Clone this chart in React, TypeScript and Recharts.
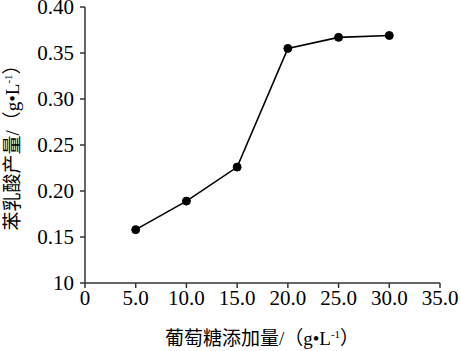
import { LineChart, Line, XAxis, YAxis } from "recharts";

const glucose = [5, 10, 15, 20, 25, 30];
const plaYield = [0.158, 0.189, 0.226, 0.355, 0.367, 0.369];
const xTicks = [0, 5, 10, 15, 20, 25, 30, 35];
const yTicks = [0.1, 0.15, 0.2, 0.25, 0.3, 0.35, 0.4];

const data = glucose.map((g, i) => ({ g, v: plaYield[i] }));

const serif = "'Liberation Serif', 'Noto Sans CJK SC', serif";
const axisColor = "#333";

export default function App() {
  return (
    <div style={{ position: "fixed", left: 0, top: 0, background: "#fff" }}>
      <LineChart
        width={460}
        height={351}
        data={data}
        margin={{ top: 7, right: 20, bottom: 0, left: 0 }}
      >
        <XAxis
          dataKey="g"
          type="number"
          domain={[0, 35]}
          ticks={xTicks}
          tickFormatter={(v: number) => (v === 0 ? "0" : v.toFixed(1))}
          height={68}
          stroke={axisColor}
          strokeWidth={1.5}
          tickSize={5}
          tick={{ fill: "#000", fontSize: 21, fontFamily: serif }}
          interval={0}
          label={{
            content: () => (
              <text
                x={262}
                y={345}
                textAnchor="middle"
                fontSize={19}
                fontFamily={serif}
                fill="#000"
              >
                葡萄糖添加量/（g•L
                <tspan dy={-7} fontSize={11}>-1</tspan>
                <tspan dy={7}>）</tspan>
              </text>
            ),
          }}
        />
        <YAxis
          type="number"
          domain={[0.1, 0.4]}
          ticks={yTicks}
          tickFormatter={(v: number) => (v === 0.1 ? "10" : v.toFixed(2))}
          width={85}
          stroke={axisColor}
          strokeWidth={1.5}
          tickSize={5}
          tickMargin={6}
          tick={{ fill: "#000", fontSize: 21, fontFamily: serif }}
          interval={0}
          label={{
            content: () => (
              <text
                x={0}
                y={0}
                transform="translate(19,143) rotate(-90)"
                textAnchor="middle"
                fontSize={19}
                fontFamily={serif}
                fill="#000"
              >
                苯乳酸产量/（g•L
                <tspan dy={-7} fontSize={11}>-1</tspan>
                <tspan dy={7}>）</tspan>
              </text>
            ),
          }}
        />
        <Line
          type="linear"
          dataKey="v"
          stroke="#000"
          strokeWidth={1.6}
          dot={{ r: 4, fill: "#000", stroke: "#000", strokeWidth: 1 }}
          isAnimationActive={false}
        />
      </LineChart>
    </div>
  );
}
